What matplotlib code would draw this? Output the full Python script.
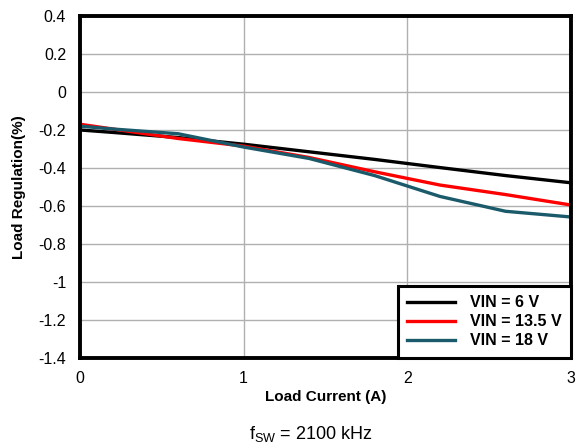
import matplotlib
matplotlib.use("Agg")
import matplotlib.pyplot as plt

plt.rcParams['font.family'] = ['Liberation Sans', 'DejaVu Sans']

current = [0, 0.2, 0.6, 1.0, 1.4, 1.8, 2.2, 2.6, 3.0]
vin6 = [-0.20, -0.213, -0.240, -0.275, -0.315, -0.355, -0.398, -0.440, -0.478]
vin13_5 = [-0.17, -0.195, -0.245, -0.285, -0.345, -0.420, -0.490, -0.540, -0.595]
vin18 = [-0.18, -0.195, -0.220, -0.290, -0.350, -0.440, -0.550, -0.628, -0.658]
labels = ['VIN = 6 V', 'VIN = 13.5 V', 'VIN = 18 V']
colors = ['#000000', '#ff0000', '#1a5a6a']

fig = plt.figure(figsize=(5.77, 4.46), dpi=100)
ax = fig.add_axes([0.1386, 0.1973, 0.851, 0.767])

for y, lab, c in zip([vin6, vin13_5, vin18], labels, colors):
    ax.plot(current, y, color=c, lw=2.4, label=lab)

ax.set_xlim(0, 3)
ax.set_ylim(-1.4, 0.4)
ax.set_xticks([0, 1, 2, 3])
ax.set_yticks([-1.4, -1.2, -1.0, -0.8, -0.6, -0.4, -0.2, 0, 0.2, 0.4])
ax.set_yticklabels(['-1.4', '-1.2', '-1', '-0.8', '-0.6', '-0.4', '-0.2', '0', '0.2', '0.4'])
ax.grid(True, color='#b0b0b0', lw=1)
ax.tick_params(length=0, labelsize=11.5, pad=9)
ax.tick_params(axis='y', pad=10)
for s in ax.spines.values():
    s.set_linewidth(2.8)
    s.set_color('black')

ax.set_xlabel('Load Current (A)', fontsize=11, fontweight='bold', labelpad=3)
ax.set_ylabel('Load Regulation(%)', fontsize=11, fontweight='bold', labelpad=9)

leg = ax.legend(loc='lower right', frameon=True, fancybox=False, borderaxespad=0,
                prop={'weight': 'bold', 'size': 11.5}, handlelength=3.0,
                borderpad=0.6, labelspacing=0.25, handletextpad=0.9)
leg.get_frame().set_edgecolor('black')
leg.get_frame().set_linewidth(2.2)
leg.get_frame().set_alpha(1)

fig.text(0.539, 0.005, r'f$_{\mathregular{SW}}$ = 2100 kHz', ha='center', va='bottom', fontsize=13)

fig.savefig('out.png', dpi=100)
